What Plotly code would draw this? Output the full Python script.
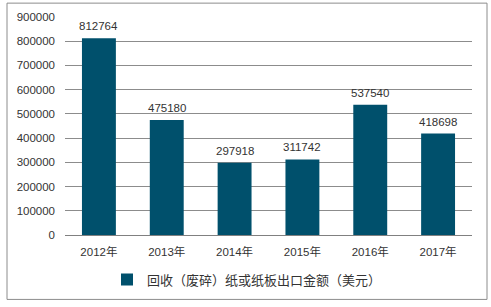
import plotly.graph_objects as go

years = ["2012年", "2013年", "2014年", "2015年", "2016年", "2017年"]
values = [812764, 475180, 297918, 311742, 537540, 418698]
series_name = "回收（废碎）纸或纸板出口金额（美元）"
y_ticks = [0, 100000, 200000, 300000, 400000, 500000, 600000, 700000, 800000, 900000]

bar_color = "#00506C"
font_family = "Liberation Sans, Arial, Noto Sans CJK SC, sans-serif"

fig = go.Figure()
fig.add_trace(go.Bar(
    x=years, y=values, name=series_name,
    marker=dict(color=bar_color, line=dict(width=0)),
))

for yr, v in zip(years, values):
    fig.add_annotation(x=yr, y=v, text=str(v), showarrow=False, yanchor="bottom",
                       yshift=4, font=dict(size=11.5, color="#333333", family=font_family))

L, R, T, B = 65, 19, 17, 70
W, H = 491, 307
pw, ph = W - L - R, H - T - B

def px(xp):
    return (xp - L) / pw

def py(yp):
    return (H - B - yp) / ph

fig.update_layout(
    width=W, height=H,
    margin=dict(l=L, r=R, t=T, b=B, pad=0),
    paper_bgcolor="white", plot_bgcolor="white",
    bargap=0.5,
    showlegend=True,
    legend=dict(orientation="h", x=px(247), xanchor="center", y=py(282), yanchor="middle",
                font=dict(size=13, color="#333333", family="Noto Sans CJK SC, sans-serif"),
                itemwidth=30),
    font=dict(family=font_family, size=11.5, color="#333333"),
    xaxis=dict(showline=True, linecolor="#808080", linewidth=1, ticks="",
               ticklabelstandoff=6,
               tickfont=dict(size=11.5, color="#333333", family="Liberation Sans, Noto Sans CJK SC, sans-serif"),
               fixedrange=True),
    yaxis=dict(range=[0, 900000], tickvals=y_ticks, ticktext=[str(v) for v in y_ticks],
               showgrid=True, gridcolor="#8c8c8c", gridwidth=1, zeroline=False,
               showline=False, ticks="", ticklabelstandoff=9,
               tickfont=dict(size=11.5, color="#333333"),
               fixedrange=True),
    shapes=[dict(type="rect", xref="paper", yref="paper",
                 x0=px(7), x1=px(487), y0=py(302), y1=py(3),
                 line=dict(color="#8c8c8c", width=1), fillcolor="rgba(0,0,0,0)", layer="below")],
)

fig.write_html("out.html")
